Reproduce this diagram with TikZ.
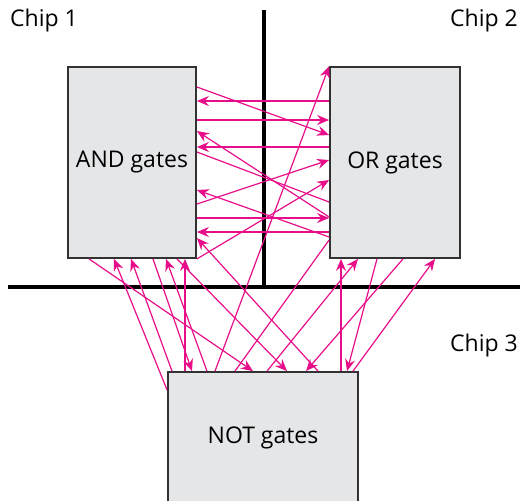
\documentclass[tikz,border=0pt]{standalone}
\usepackage{fontspec}
\setmainfont{Open Sans}
\usepackage{tikz}
\usetikzlibrary{arrows.meta, positioning, calc}
\tikzset{>={Stealth}}
\definecolor{wiremagenta}{RGB}{232,14,138}
\definecolor{gategray}{RGB}{229,230,232}
\definecolor{edgegray}{RGB}{50,50,50}

\begin{document}
\begin{tikzpicture}[
      x=0.5pt, y=-0.5pt,
      gate/.style={rectangle, draw=edgegray, fill=gategray, line width=0.9pt, font=\fontsize{11.5}{14}\selectfont, inner sep=0pt},
      chip/.style={font=\fontsize{11.5}{14}\selectfont, inner sep=0pt},
      border/.style={line width=2pt, black},
      arrow/.style={-{Stealth[length=6pt, width=5pt, inset=2pt]}, line width=0.6pt, wiremagenta},
      link/.style={line width=0.6pt, wiremagenta}
    ]
    \useasboundingbox (0,0) rectangle (520,500);

    % CHIP BORDERS
    \draw[border] (264,10) -- (264,287);
    \draw[border] (8,287) -- (520,287);

    % CHIP LABELS
    \node[chip] (chipone) at (44,21) {Chip 1};
    \node[chip] (chiptwo) at (484,21) {Chip 2};
    \node[chip] (chipthree) at (484,346) {Chip 3};

    % GATE BLOCKS
    \node[gate, minimum width=64pt, minimum height=95.5pt] (andgates) at (132,162.5) {\raisebox{-1.5pt}{AND gates}};
    \node[gate, minimum width=65pt, minimum height=95.5pt] (orgates) at (395,162.5) {\raisebox{-1.5pt}{OR gates}};
    \node[gate, minimum width=95pt, minimum height=66pt] (notgates) at (263,438) {\raisebox{-1pt}{NOT gates}};

    %%% CHIP 1 <-> CHIP 2
    \draw[arrow] (andgates.east |- 0,87) -- (orgates.west |- 0,135);
    \draw[arrow] (orgates.west |- 0,101) -- (andgates.east |- 0,101);
    \draw[arrow] (andgates.east |- 0,120) -- (orgates.west |- 0,120);
    \draw[arrow] (orgates.west |- 0,217) -- (andgates.east |- 0,131);
    \draw[arrow] (orgates.west |- 0,147) -- (andgates.east |- 0,147);
    \draw[link] (andgates.east |- 0,152) -- (orgates.west |- 0,202);
    \draw[arrow] (andgates.east |- 0,204) -- (orgates.west |- 0,160);
    \draw[arrow] (orgates.west |- 0,237) -- (andgates.east |- 0,190);
    \draw[arrow] (andgates.east |- 0,218) -- (orgates.west |- 0,218);
    \draw[arrow] (orgates.west |- 0,232) -- (andgates.east |- 0,232);
    \draw[arrow] (andgates.south east) -- (orgates.west |- 0,180);

    %%% CHIP 3 <-> CHIP 1
    \draw[arrow] (notgates.west |- 0,390) -- (andgates.south -| 114,0);
    \draw[arrow] (notgates.north -| 172,0) -- (andgates.south -| 131,0);
    \draw[arrow] (andgates.south -| 153,0) -- (notgates.north -| 192,0);
    \draw[arrow] (notgates.north -| 185,0) -- (andgates.south -| 185,0);
    \draw[arrow] (notgates.north -| 207,0) -- (andgates.south -| 166,0);
    \draw[arrow] (andgates.south -| 89,0) -- (notgates.north -| 253,0);
    \draw[arrow] (andgates.south -| 177,0) -- (notgates.north -| 287,0);
    \draw[arrow] (notgates.north -| 318,0) -- (andgates.east |- 0,238);

    %%% CHIP 3 <-> CHIP 2
    \draw[arrow] (notgates.north -| 215,0) -- (orgates.north west);
    \draw[link] (notgates.north -| 235,0) -- (orgates.west |- 0,240);
    \draw[arrow] (notgates.north -| 267,0) -- (orgates.south -| 358,0);
    \draw[arrow] (orgates.south -| 403,0) -- (notgates.north -| 306,0);
    \draw[arrow] (orgates.south -| 377,0) -- (notgates.north -| 347,0);
    \draw[arrow] (notgates.north -| 341,0) -- (orgates.south -| 341,0);
    \draw[arrow] (notgates.north -| 353,0) -- (orgates.south -| 435,0);
\end{tikzpicture}
\end{document}
